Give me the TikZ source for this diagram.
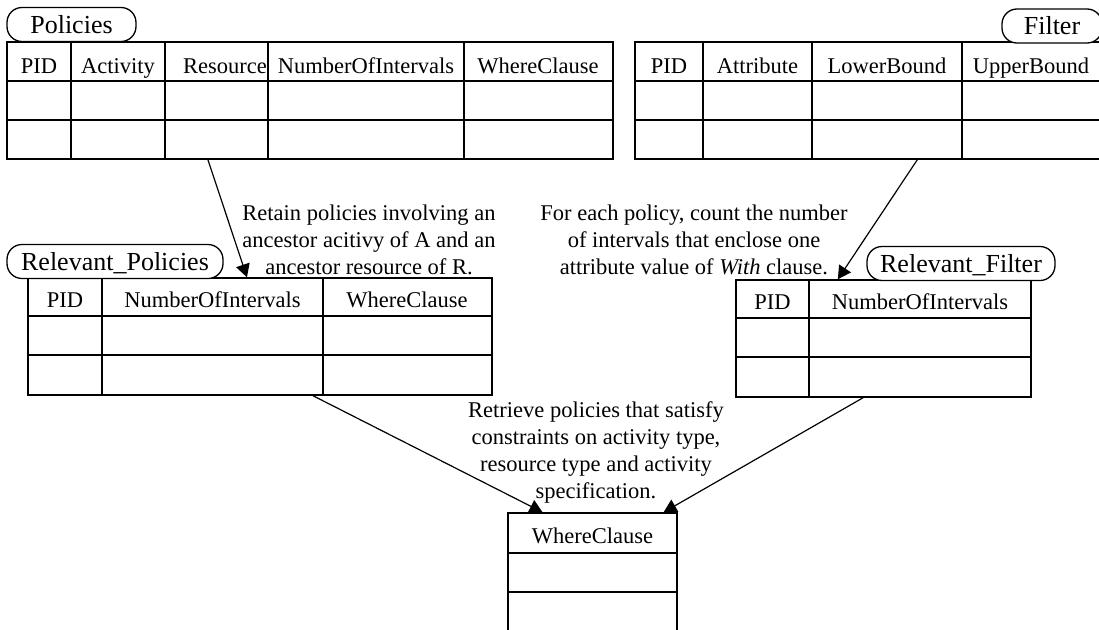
\documentclass[tikz,border=0pt]{standalone}
\usepackage{fontspec}
\setmainfont{Liberation Serif}
\usetikzlibrary{arrows.meta,calc}

\tikzset{
  tbl/.style={draw, line width=1.5pt, inner sep=0pt},
  rule/.style={line width=1.5pt},
  lbl/.style={draw, line width=1.3pt, rounded corners=15pt, fill=white, inner sep=0pt,
    minimum height=34pt, text height=17.5pt, text depth=0pt, font=\fontsize{26}{30}\selectfont},
  hdr/.style={anchor=base, inner sep=0pt, font=\fontsize{22.5}{27}\selectfont},
  note/.style={anchor=north, align=center, inner sep=0pt, font=\fontsize{22.5}{26.8}\selectfont},
  flow/.style={-{Triangle[length=13pt,width=14pt]}, line width=1.2pt},
}

\begin{document}
\begin{tikzpicture}[x=1pt, y=-1pt]
  \useasboundingbox (0,0) rectangle (1099,629);

  % Policies table
  \node[tbl, minimum width=606pt, minimum height=117pt] (policies) at (310,100.5) {};
  \draw[rule] (7,81) -- (613,81) (7,120) -- (613,120);
  \draw[rule] (71,42) -- (71,159) (165,42) -- (165,159) (268,42) -- (268,159) (464,42) -- (464,159);
  \node[hdr] (pol-pid) at (39,73) {PID};
  \node[hdr] (pol-act) at (118,73) {Activity};
  \node[hdr] (pol-res) at (225,73) {Resource};
  \node[hdr] (pol-num) at (366,73) {NumberOfIntervals};
  \node[hdr] (pol-where) at (538,73) {WhereClause};
  \node[lbl, minimum width=129pt] (policies-lbl) at (71.5,24.5) {Policies};

  % Filter table (runs past the right edge)
  \node[tbl, minimum width=475pt, minimum height=117pt] (filter) at (872.5,100.5) {};
  \draw[rule] (635,81) -- (1110,81) (635,120) -- (1110,120);
  \draw[rule] (703,42) -- (703,159) (812,42) -- (812,159) (962,42) -- (962,159);
  \node[hdr] (fil-pid) at (669,73) {PID};
  \node[hdr] (fil-attr) at (757.5,73) {Attribute};
  \node[hdr] (fil-low) at (887,73) {LowerBound};
  \node[hdr] (fil-up) at (1031,73) {UpperBound};
  \node[lbl, minimum width=100pt] (filter-lbl) at (1052,26) {Filter};

  % Relevant_Policies table
  \node[tbl, minimum width=464pt, minimum height=117pt] (relpol) at (260,336.5) {};
  \draw[rule] (28,316) -- (492,316) (28,355) -- (492,355);
  \draw[rule] (102,278) -- (102,395) (323,278) -- (323,395);
  \node[hdr] (rp-pid) at (65,307) {PID};
  \node[hdr] (rp-num) at (212.5,307) {NumberOfIntervals};
  \node[hdr] (rp-where) at (407,307) {WhereClause};
  \node[lbl, minimum width=216pt] (relpol-lbl) at (115,261.5) {Relevant\_Policies};

  % Relevant_Filter table
  \node[tbl, minimum width=295pt, minimum height=117pt] (relfil) at (883.5,338.5) {};
  \draw[rule] (736,318) -- (1031,318) (736,357) -- (1031,357);
  \draw[rule] (809,280) -- (809,397);
  \node[hdr] (rf-pid) at (772.5,309) {PID};
  \node[hdr] (rf-num) at (920,309) {NumberOfIntervals};
  \node[lbl, minimum width=188pt] (relfil-lbl) at (961,263.5) {Relevant\_Filter};

  % WhereClause table (runs past the bottom edge)
  \node[tbl, minimum width=169pt, minimum height=127pt] (where) at (592.5,576.5) {};
  \draw[rule] (508,553) -- (677,553) (508,592) -- (677,592);
  \node[hdr] (wc-head) at (592.5,543) {WhereClause};

  % Notes on the steps
  \node[note] (retain) at (369,204.6) {Retain policies involving an\\ancestor acitivy of A and an\\ancestor resource of R.};
  \node[note] (count) at (694,204.6) {For each policy, count the number\\of intervals that enclose one\\attribute value of \textit{With} clause.};
  \node[note] (retrieve) at (596,401.6) {Retrieve policies that satisfy\\constraints on activity type,\\resource type and activity\\specification.};

  % Flow between tables
  \draw[flow] ($(policies.south west)!0.332!(policies.south east)$) -- ($(relpol.north west)!0.472!(relpol.north east)$);
  \draw[flow] ($(filter.south west)!0.594!(filter.south east)$) -- ($(relfil.north west)!0.346!(relfil.north east)$);
  \draw[flow] ($(relpol.south west)!0.614!(relpol.south east)$) -- ($(where.north west)!0.207!(where.north east)$);
  \draw[flow] ($(relfil.south west)!0.431!(relfil.south east)$) -- ($(where.north west)!0.917!(where.north east)$);
\end{tikzpicture}
\end{document}
